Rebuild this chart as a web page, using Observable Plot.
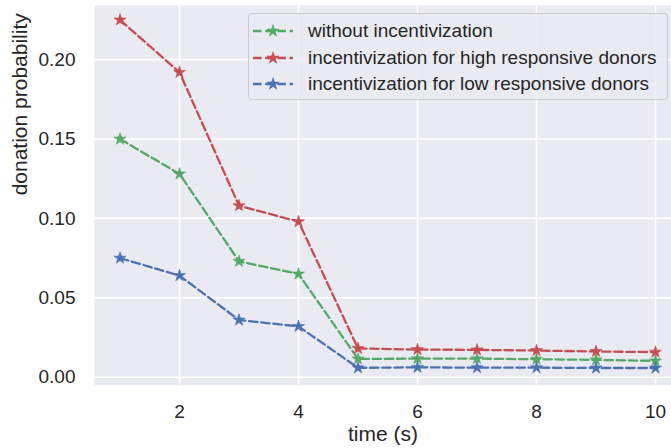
<!DOCTYPE html>
<html>
<head>
<meta charset="utf-8">
<script src="https://cdn.jsdelivr.net/npm/d3@7"></script>
<script src="https://cdn.jsdelivr.net/npm/@observablehq/plot@0.6"></script>
<style>
  html, body { margin: 0; padding: 0; background: white; }
  #wrap { position: relative; width: 671px; height: 448px; overflow: hidden; font-family: "Liberation Sans", Arial, sans-serif; color: #262626; }
  #legend { position: absolute; left: 248px; top: 13px; width: 420px; height: 87px; box-sizing: border-box;
            border: 1px solid #cccccc; border-radius: 4px; background: rgba(234,234,242,0.8); }
  .row { position: absolute; left: 0; height: 24px; display: flex; align-items: center; }
  .row svg { margin-left: 4px; }
  .row span { position: absolute; left: 59px; font-size: 19px; white-space: nowrap; line-height: 24px; }
</style>
</head>
<body>
<div id="wrap"></div>
<script>
const time = [1, 2, 3, 4, 5, 6, 7, 8, 9, 10];
const withoutIncentive = [0.150, 0.128, 0.073, 0.065, 0.0115, 0.0117, 0.0117, 0.0113, 0.0109, 0.0103];
const highResponsive = [0.225, 0.192, 0.108, 0.098, 0.0181, 0.0174, 0.0172, 0.0168, 0.0162, 0.0158];
const lowResponsive = [0.075, 0.064, 0.036, 0.032, 0.0059, 0.0062, 0.0060, 0.0060, 0.0058, 0.0058];
const seriesNames = ["without incentivization", "incentivization for high responsive donors", "incentivization for low responsive donors"];
const seriesColors = ["#55A868", "#C44E52", "#4C72B0"];
const xTicks = [2, 4, 6, 8, 10];
const yTicks = [0, 0.05, 0.10, 0.15, 0.20];

const seriesValues = [withoutIncentive, highResponsive, lowResponsive];
const seriesMarks = seriesValues.flatMap((vals, i) => {
  const data = time.map((t, j) => ({t, v: vals[j]}));
  return [
    Plot.line(data, {x: "t", y: "v", stroke: seriesColors[i], strokeWidth: 2.3, strokeDasharray: "8.5,3.7"}),
    Plot.dot(data, {x: "t", y: "v", symbol: "star", r: 3.8, fill: seriesColors[i], stroke: seriesColors[i], strokeWidth: 0.6})
  ];
});

const chart = Plot.plot({
  width: 671,
  height: 448,
  marginLeft: 94,
  marginRight: 0,
  marginTop: 5,
  marginBottom: 63.3,
  style: {fontFamily: "'Liberation Sans', Arial, sans-serif", fontSize: "19px", color: "#262626", background: "white"},
  x: {domain: [0.571, 10.269]},
  y: {domain: [-0.00504, 0.2341]},
  marks: [
    Plot.frame({fill: "#EAEAF2", stroke: null}),
    Plot.gridX(xTicks, {stroke: "white", strokeOpacity: 1, strokeWidth: 1.6}),
    Plot.gridY(yTicks, {stroke: "white", strokeOpacity: 1, strokeWidth: 1.6}),
    Plot.axisX(xTicks, {tickSize: 0, tickPadding: 19.5, label: null}),
    Plot.axisY(yTicks, {tickSize: 0, tickPadding: 19, tickFormat: d3.format(".2f"), label: null}),
    Plot.text(["time (s)"], {frameAnchor: "bottom", dy: 55.5, fontSize: 21, fill: "#262626"}),
    Plot.text(["donation probability"], {frameAnchor: "left", dx: -74, rotate: -90, fontSize: 21, fill: "#262626"}),
    ...seriesMarks
  ]
});

const wrap = document.getElementById("wrap");
wrap.appendChild(chart);

const legend = document.createElement("div");
legend.id = "legend";
const starPath = d3.symbol(d3.symbolStar, Math.PI * 14.4)();
const rowTops = [4.5, 32, 58];
seriesNames.forEach((name, i) => {
  const row = document.createElement("div");
  row.className = "row";
  row.style.top = rowTops[i] + "px";
  row.innerHTML = `<svg width="42" height="24" viewBox="0 0 42 24">
    <line x1="0" y1="12" x2="40" y2="12" stroke="${seriesColors[i]}" stroke-width="2.3" stroke-dasharray="8.5,3.7"/>
    <path d="${starPath}" transform="translate(20,12)" fill="${seriesColors[i]}" stroke="${seriesColors[i]}" stroke-width="0.6"/>
  </svg><span>${name}</span>`;
  legend.appendChild(row);
});
wrap.appendChild(legend);
</script>
</body>
</html>
